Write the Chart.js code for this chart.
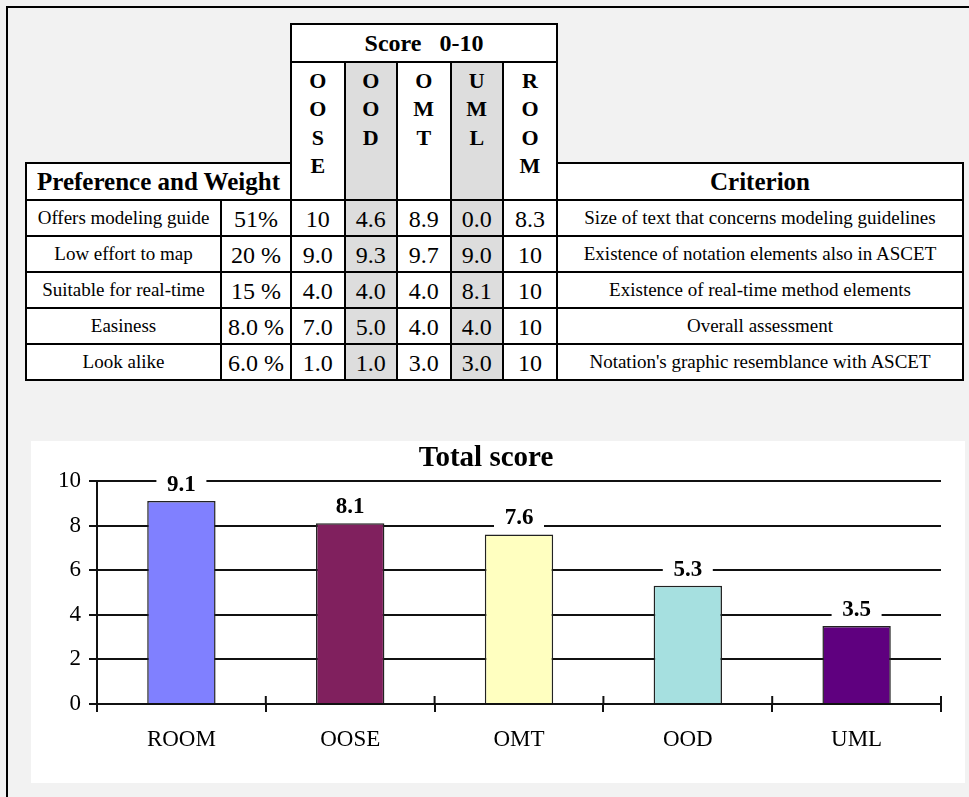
<!DOCTYPE html>
<html>
<head>
<meta charset="utf-8">
<title>Total score</title>
<script src="https://cdn.jsdelivr.net/npm/chart.js@4.4.1/dist/chart.umd.min.js"></script>
<style>
  html, body { margin: 0; padding: 0; }
  body {
    width: 969px; height: 797px; overflow: hidden; position: relative;
    background: #f2f2f2; font-family: "Liberation Serif", "Times New Roman", serif; color: #000;
  }
  #frame {
    position: absolute; left: 6px; top: 6px; width: 980px; height: 820px;
    border-top: 2px solid #000; border-left: 2px solid #000;
  }
  #scores {
    position: absolute; left: 25px; top: 23px;
    border-collapse: collapse; table-layout: fixed;
  }
  #scores td, #scores th {
    border: 2px solid #000; padding: 0; text-align: center; background: #fff;
    overflow: hidden; white-space: nowrap;
  }
  #scores .blank { border: none; background: transparent; }
  #scores .score { font-weight: bold; font-size: 24px; height: 36px; white-space: pre; }
  #scores .letters {
    font-weight: bold; font-size: 22px; line-height: 28.3px; vertical-align: top;
    padding-top: 4px; white-space: normal;
  }
  #scores .head { font-weight: bold; font-size: 25px; height: 35px; }
  #scores .txt { font-size: 19px; height: 34px; }
  #scores .num { font-size: 24px; padding-top: 3px; }
  #scores .shade { background: #dddddd; }
  #chartBox {
    position: absolute; left: 31px; top: 441px; width: 934px; height: 342px; background: #fff;
  }
</style>
</head>
<body>
<div id="frame"></div>
<table id="scores"></table>
<div id="chartBox"><canvas id="grafico" width="934" height="342"></canvas></div>

<script>
// datos de la tabla
const metodos = ["OOSE", "OOD", "OMT", "UML", "ROOM"];
const metodosSombreados = ["OOD", "UML"];
const preferencias = ["Offers modeling guide", "Low effort to map", "Suitable for real-time", "Easiness", "Look alike"];
const pesos = ["51%", "20 %", "15 %", "8.0 %", "6.0 %"];
const notasOOSE = [10, 9.0, 4.0, 7.0, 1.0];
const notasOOD = [4.6, 9.3, 4.0, 5.0, 1.0];
const notasOMT = [8.9, 9.7, 4.0, 4.0, 3.0];
const notasUML = [0.0, 9.0, 8.1, 4.0, 3.0];
const notasROOM = [8.3, 10, 10, 10, 10];
const criterios = [
  "Size of text that concerns modeling guidelines",
  "Existence of notation elements also in ASCET",
  "Existence of real-time method elements",
  "Overall assessment",
  "Notation's graphic resemblance with ASCET"
];

// datos del grafico
const categorias = ["ROOM", "OOSE", "OMT", "OOD", "UML"];
const totales = [9.1, 8.1, 7.6, 5.3, 3.5];
const coloresBarras = ["#8080FF", "#80205E", "#FFFFC0", "#A6E0E0", "#5F007F"];
const ejeY = { min: 0, max: 10, paso: 2 };

const FONT = '"Liberation Serif", "Times New Roman", serif';
const notasPorMetodo = { OOSE: notasOOSE, OOD: notasOOD, OMT: notasOMT, UML: notasUML, ROOM: notasROOM };

function formato(v) {
  return v === 10 ? "10" : v.toFixed(1);
}

function armarTabla() {
  const anchos = [195, 70, 53.5, 52.5, 53.5, 52.5, 54, 406];
  let html = "<colgroup>" + anchos.map(w => '<col style="width:' + w + 'px">').join("") + "</colgroup>";

  html += '<tr><td class="blank" colspan="2"></td><th class="score" colspan="5">Score   0-10</th><td class="blank"></td></tr>';

  html += '<tr style="height:101px"><td class="blank" colspan="2"></td>';
  metodos.forEach(m => {
    const sh = metodosSombreados.includes(m) ? " shade" : "";
    html += '<th class="letters' + sh + '" rowspan="2">' + m.split("").join("<br>") + "</th>";
  });
  html += '<td class="blank"></td></tr>';

  html += '<tr><th class="head" colspan="2">Preference and Weight</th><th class="head">Criterion</th></tr>';

  preferencias.forEach((p, i) => {
    html += '<tr><td class="txt">' + p + '</td><td class="num">' + pesos[i] + "</td>";
    metodos.forEach(m => {
      const sh = metodosSombreados.includes(m) ? " shade" : "";
      html += '<td class="num' + sh + '">' + formato(notasPorMetodo[m][i]) + "</td>";
    });
    html += '<td class="txt">' + criterios[i] + "</td></tr>";
  });

  document.getElementById("scores").innerHTML = html;
}

armarTabla();

// etiquetas con fondo blanco sobre cada barra
const etiquetasValor = {
  id: "etiquetasValor",
  afterDatasetsDraw(chart) {
    const ctx = chart.ctx;
    const meta = chart.getDatasetMeta(0);
    ctx.save();
    ctx.font = "bold 23px " + FONT;
    ctx.textAlign = "center";
    ctx.textBaseline = "middle";
    meta.data.forEach((bar, i) => {
      const cy = bar.y - 17;
      ctx.fillStyle = "#fff";
      ctx.fillRect(bar.x - 25, cy - 13, 50, 26);
      ctx.fillStyle = "#000";
      ctx.fillText(totales[i].toFixed(1), bar.x, cy + 1);
    });
    ctx.restore();
  }
};

// marcas del eje X que cruzan hacia arriba
const marcasCruzadas = {
  id: "marcasCruzadas",
  afterDraw(chart) {
    const area = chart.chartArea;
    const n = chart.data.labels.length;
    const ctx = chart.ctx;
    ctx.save();
    ctx.strokeStyle = "#111";
    ctx.lineWidth = 2;
    for (let i = 0; i <= n; i++) {
      const x = area.left + i * (area.right - area.left) / n;
      ctx.beginPath();
      ctx.moveTo(x, area.bottom - 8);
      ctx.lineTo(x, area.bottom);
      ctx.stroke();
    }
    ctx.restore();
  }
};

const ctx = document.getElementById("grafico");

new Chart(ctx, {
  type: "bar",
  data: {
    labels: categorias,
    datasets: [{
      label: "Total score",
      data: totales,
      backgroundColor: coloresBarras,
      borderColor: "#222",
      borderWidth: 1.5,
      barPercentage: 0.405,
      categoryPercentage: 1
    }]
  },
  options: {
    responsive: false,
    animation: false,
    layout: { padding: { left: 0, right: 24, top: 0, bottom: 0 } },
    plugins: {
      legend: { display: false },
      tooltip: { enabled: false },
      title: {
        display: true,
        text: "Total score",
        color: "#000",
        font: { family: FONT, size: 29, weight: "bold", lineHeight: 1.1 },
        padding: { top: 2, bottom: 6 }
      }
    },
    scales: {
      x: {
        grid: { offset: true, drawOnChartArea: false, drawTicks: true, tickLength: 8, color: "#111", lineWidth: 2 },
        border: { display: true, color: "#111", width: 2 },
        ticks: { color: "#000", font: { family: FONT, size: 23 }, padding: 14 },
        afterFit: s => { s.height = 79; }
      },
      y: {
        min: ejeY.min,
        max: ejeY.max,
        ticks: { stepSize: ejeY.paso, color: "#000", font: { family: FONT, size: 23 }, padding: 8 },
        grid: { color: "#111", lineWidth: 2, tickLength: 8 },
        border: { display: true, color: "#111", width: 2 },
        afterFit: s => { s.width = 66; }
      }
    }
  },
  plugins: [etiquetasValor, marcasCruzadas]
});
</script>
</body>
</html>
